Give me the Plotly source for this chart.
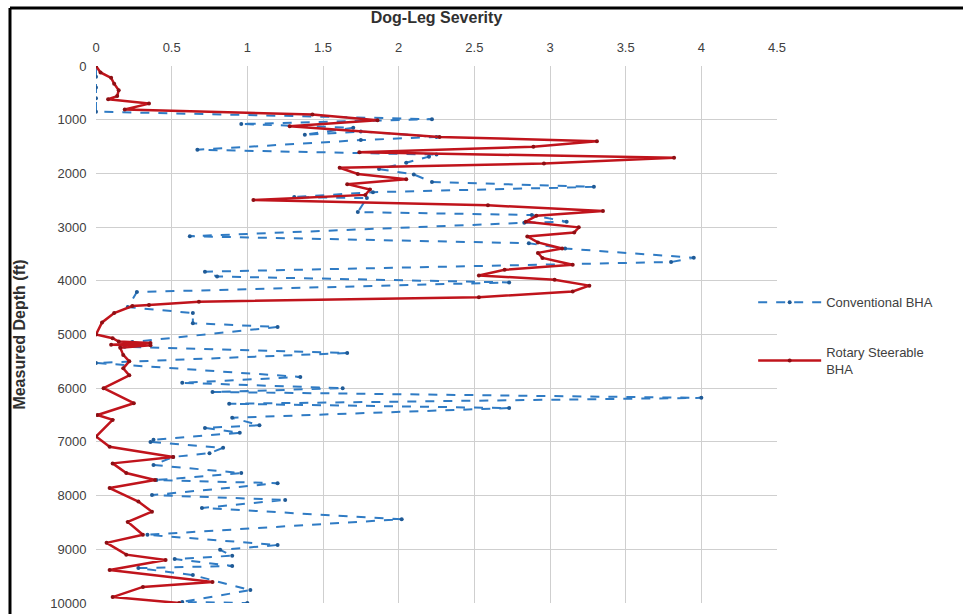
import plotly.graph_objects as go

# Conventional BHA: (dog-leg severity, measured depth)
conv_dls = [0, 0, 0, 0, 0, 2.22, 0.96, 1.70, 1.38, 1.75, 2.25, 1.75, 0.67, 2.25, 2.20, 2.05, 1.87,
            2.10, 2.22, 3.29, 1.83, 1.31, 1.79, 1.73, 2.88, 3.11, 2.83, 0.62, 2.86, 3.10, 3.95, 3.80,
            0.72, 0.80, 2.73, 0.27, 0.21, 0.64, 0.64, 1.20, 0.24, 0.19, 1.66, 0.00, 1.35, 0.57, 1.63,
            0.77, 4.00, 0.88, 2.73, 0.90, 1.08, 0.72, 0.95, 0.38, 0.36, 0.84, 0.75, 0.51, 0.38, 0.96,
            0.40, 1.20, 0.37, 1.25, 0.70, 2.02, 0.34, 1.20, 0.82, 0.90, 0.52, 0.90, 0.28, 0.64, 1.02,
            0.57, 1.00]
conv_md = [0, 200, 400, 600, 850, 990, 1080, 1150, 1280, 1220, 1320, 1380, 1560, 1650, 1690, 1800, 1920,
           2020, 2160, 2250, 2350, 2440, 2460, 2720, 2775, 2900, 2920, 3170, 3300, 3400, 3570, 3650,
           3830, 3920, 4030, 4210, 4490, 4600, 4790, 4860, 5140, 5230, 5345, 5530, 5790, 5900, 6000,
           6070, 6180, 6290, 6370, 6550, 6690, 6740, 6830, 6960, 7000, 7110, 7210, 7280, 7430, 7580,
           7710, 7770, 7990, 8080, 8230, 8440, 8730, 8920, 9010, 9120, 9180, 9310, 9350, 9480, 9760,
           9980, 10000]

# Rotary Steerable BHA
rss_dls = [0, 0.03, 0.10, 0.12, 0.15, 0.14, 0.08, 0.35, 0.19, 1.43, 1.86, 1.28, 2.27, 3.31, 2.89, 1.74,
           3.82, 2.96, 1.61, 1.73, 2.05, 1.66, 1.81, 1.78, 1.04, 2.59, 3.35, 2.91, 2.84, 3.19, 3.16,
           2.85, 2.92, 3.08, 2.92, 2.95, 3.15, 2.70, 2.53, 3.03, 3.26, 3.15, 2.53, 0.68, 0.35, 0.24,
           0.12, 0.04, 0.00, 0.11, 0.15, 0.36, 0.10, 0.36, 0.16, 0.18, 0.22, 0.18, 0.22, 0.05, 0.25,
           0.01, 0.11, 0.00, 0.09, 0.51, 0.11, 0.20, 0.39, 0.09, 0.28, 0.37, 0.21, 0.31, 0.07, 0.20,
           0.46, 0.09, 0.77, 0.31, 0.11, 0.55]
rss_md = [0, 120, 220, 330, 450, 560, 620, 700, 810, 905, 1010, 1120, 1320, 1400, 1505, 1605,
          1710, 1815, 1895, 2010, 2110, 2200, 2300, 2400, 2495, 2595, 2700, 2790, 2900, 3005, 3100,
          3175, 3285, 3400, 3480, 3575, 3700, 3795, 3900, 3980, 4090, 4200, 4305, 4390, 4450, 4470,
          4600, 4775, 5000, 5070, 5130, 5160, 5190, 5200, 5245, 5380, 5500, 5630, 5760, 6000, 6280,
          6500, 6590, 6900, 7090, 7280, 7400, 7580, 7710, 7860, 8110, 8300, 8490, 8730, 8880, 9100,
          9200, 9385, 9610, 9700, 9890, 10000]

x_ticks = [0, 0.5, 1, 1.5, 2, 2.5, 3, 3.5, 4, 4.5]
y_ticks = [0, 1000, 2000, 3000, 4000, 5000, 6000, 7000, 8000, 9000, 10000]

FONT = "Liberation Sans, Arial, sans-serif"

fig = go.Figure()
fig.add_trace(go.Scatter(
    x=conv_dls, y=conv_md, name="Conventional BHA", mode="lines+markers",
    line=dict(color="#2F7BC4", width=2, dash="dash"),
    marker=dict(color="#1F5A96", size=4),
    legendgroup="a",
))
fig.add_trace(go.Scatter(
    x=rss_dls, y=rss_md, name="Rotary Steerable<br>BHA", mode="lines+markers",
    line=dict(color="#C0141C", width=2.5),
    marker=dict(color="#8E0F14", size=4),
    legendgroup="b",
))

fig.update_layout(
    width=963, height=614,
    margin=dict(l=96, r=186, t=66, b=11),
    paper_bgcolor="white", plot_bgcolor="white",
    font=dict(family=FONT, size=13, color="#404040"),
    showlegend=True,
    legend=dict(x=0.965, y=0.588, xanchor="left", yanchor="top",
                font=dict(size=13, color="#404040"), tracegroupgap=30,
                itemwidth=63, bgcolor="rgba(0,0,0,0)"),
    xaxis=dict(side="top", range=[0, 4.5], tickvals=x_ticks, ticktext=[str(v) for v in x_ticks],
               showgrid=True, gridcolor="#CFCFCF", gridwidth=1, zeroline=False,
               ticks="outside", ticklen=8, tickcolor="rgba(0,0,0,0)",
               showline=False, automargin=False,
               title=dict(text="<b>Dog-Leg Severity</b>", font=dict(size=16, color="#303030"), standoff=12)),
    yaxis=dict(range=[10000, 0], tickvals=y_ticks, ticktext=[str(v) for v in y_ticks],
               showgrid=True, gridcolor="#CFCFCF", gridwidth=1, zeroline=False,
               ticks="outside", ticklen=6, tickcolor="rgba(0,0,0,0)",
               showline=False, automargin=False,
               title=dict(text="<b>Measured Depth (ft)</b>", font=dict(size=16, color="#303030"), standoff=20)),
    shapes=[
        dict(type="line", xref="paper", yref="paper", x0=-0.1263, x1=1.28, y0=1.108, y1=1.108,
             line=dict(color="black", width=3)),
        dict(type="line", xref="paper", yref="paper", x0=-0.1263, x1=-0.1263, y0=1.108, y1=-0.03,
             line=dict(color="black", width=3)),
    ],
)

fig.write_html("out.html")
